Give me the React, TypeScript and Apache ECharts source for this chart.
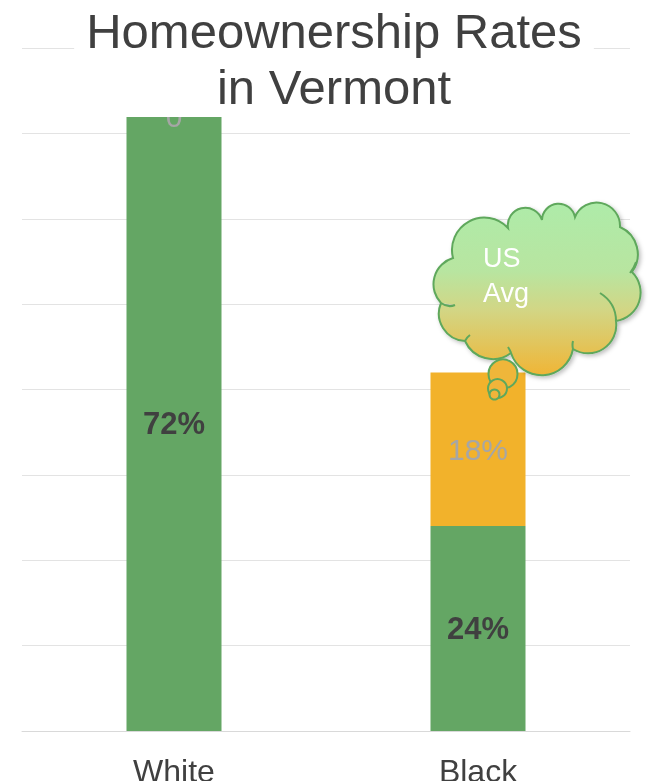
import React, { useEffect, useRef } from "react";
import * as echarts from "echarts";

// ---- Data ----
const categories = ["White", "Black"];
const vermontRate = [72, 24]; // homeownership rate in Vermont (%)
const gapToUsAvg = [0, 18]; // additional points up to the US average (%)
const yMin = 0;
const yMax = 80;
const yStep = 10;

const FONT = "'Liberation Sans', Arial, sans-serif";

// ---- Cloud callout shape (decoration) ----
// cusp points of the cloud outline (clockwise) and the bulge of the lobe that follows
const cloudLobes: [number, number, number][] = [
  [441, 303, 0.28],
  [453, 258, 0.39],
  [508, 228, 0.47],
  [542, 220, 0.45],
  [575, 217, 0.42],
  [620, 227, 0.24],
  [632, 272, 0.31],
  [616, 321, 0.32],
  [573, 349, 0.39],
  [511, 353, 0.24],
  [465, 341, 0.26],
];

function buildCloudPath(): string {
  let d = `M ${cloudLobes[0][0]} ${cloudLobes[0][1]} `;
  for (let i = 0; i < cloudLobes.length; i++) {
    const [x1, y1, s] = cloudLobes[i];
    const [x2, y2] = cloudLobes[(i + 1) % cloudLobes.length];
    const c = Math.hypot(x2 - x1, y2 - y1);
    const r = (c * (0.25 + s * s)) / (2 * s) + 0.01;
    d += `A ${r.toFixed(2)} ${r.toFixed(2)} 0 0 1 ${x2} ${y2} `;
  }
  d += "Z ";
  // small inner hooks of the cloud outline
  d += "M 441 303 Q 448 308 455 305 ";
  d += "M 636 262 Q 634 268 630 273 ";
  d += "M 600 293 Q 616 303 616 321 ";
  d += "M 573 341 Q 572 345 573 349 ";
  d += "M 511 353 Q 510 350 508 347 ";
  d += "M 465 341 Q 467 337 470 335 ";
  return d;
}

echarts.graphic.registerShape("cloud", echarts.graphic.extendPath(buildCloudPath(), {}) as any);

export default function App() {
  const ref = useRef<HTMLDivElement>(null);

  useEffect(() => {
    if (!ref.current) return;
    const chart = echarts.init(ref.current, null, { renderer: "svg" });
    const cloudFill = new echarts.graphic.LinearGradient(0, 0, 0, 1, [
      { offset: 0, color: "#aeeba9" },
      { offset: 0.4, color: "#b8e5a0" },
      { offset: 0.62, color: "#d2d685" },
      { offset: 1, color: "#f0b536" },
    ]);
    const outline = "#5ea85c";
    chart.setOption({
      animation: false,
      textStyle: { fontFamily: FONT },
      title: {
        text: "Homeownership Rates\nin Vermont",
        left: 322,
        top: 0,
        textAlign: "center",
        padding: [3, 12, 2, 12],
        backgroundColor: "#ffffff",
        textStyle: {
          fontFamily: FONT,
          fontSize: 49,
          fontWeight: "normal",
          color: "#404040",
          lineHeight: 56,
        },
      },
      grid: {
        left: 22,
        right: 18,
        top: 48,
        bottom: 50,
        containLabel: false,
        outerBoundsMode: "none",
      },
      xAxis: {
        type: "category",
        data: categories,
        axisLine: { show: true, lineStyle: { color: "#d9d9d9", width: 1 } },
        axisTick: { show: false },
        axisLabel: { fontSize: 32, color: "#404040", margin: 24, fontFamily: FONT },
      },
      yAxis: {
        type: "value",
        min: yMin,
        max: yMax,
        interval: yStep,
        axisLabel: { show: false },
        axisLine: { show: false },
        axisTick: { show: false },
        splitLine: { show: true, lineStyle: { color: "#e3e3e3", width: 1 } },
      },
      series: [
        {
          type: "bar",
          name: "Vermont",
          stack: "total",
          data: vermontRate,
          barWidth: 95,
          itemStyle: { color: "#64a664" },
          label: {
            show: true,
            position: "inside",
            formatter: "{c}%",
            fontSize: 31,
            fontWeight: "bold",
            color: "#404040",
            fontFamily: FONT,
          },
        },
        {
          type: "bar",
          name: "Gap to US average",
          stack: "total",
          data: gapToUsAvg,
          barWidth: 95,
          itemStyle: { color: "#f2b22b" },
          label: {
            show: true,
            position: "inside",
            formatter: (p: any) => (p.value === 0 ? "0" : p.value + "%"),
            fontSize: 30,
            color: "#a6a6a6",
            fontFamily: FONT,
          },
        },
      ],
      graphic: [
        {
          type: "cloud",
          x: 0,
          y: 0,
          z: 20,
          style: {
            fill: cloudFill,
            stroke: outline,
            lineWidth: 2,
            shadowBlur: 4,
            shadowOffsetX: 2,
            shadowOffsetY: 2,
            shadowColor: "rgba(0,0,0,0.25)",
          },
        },
        {
          type: "text",
          z: 21,
          x: 483,
          y: 240,
          style: {
            text: "US\nAvg",
            fill: "#ffffff",
            font: `27px ${FONT}`,
            lineHeight: 35,
            textVerticalAlign: "top",
            verticalAlign: "top",
          },
        },
        {
          type: "circle",
          z: 22,
          shape: { cx: 503, cy: 374, r: 14.5 },
          style: { fill: "#efb63a", stroke: outline, lineWidth: 2 },
        },
        {
          type: "circle",
          z: 23,
          shape: { cx: 497.5, cy: 388.5, r: 9.5 },
          style: { fill: "#f0b43a", stroke: outline, lineWidth: 2 },
        },
        {
          type: "circle",
          z: 24,
          shape: { cx: 494.5, cy: 394.5, r: 5 },
          style: { fill: "#f0b43a", stroke: outline, lineWidth: 2 },
        },
      ],
    });
    return () => chart.dispose();
  }, []);

  return (
    <div
      ref={ref}
      style={{ position: "fixed", left: 0, top: 0, width: 648, height: 781 }}
    />
  );
}
